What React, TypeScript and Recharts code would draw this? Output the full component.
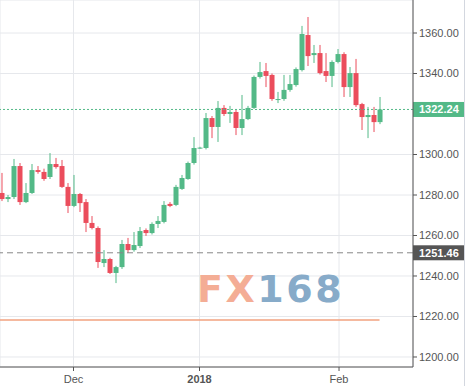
import React from 'react'
import { ComposedChart, Bar, XAxis, YAxis, CartesianGrid, ReferenceLine } from 'recharts'

// daily gold candles, Nov 2017 -> Feb 2018 (index = trading day)
const opens = [
  1281.0, 1278.0, 1279.0, 1294.3, 1276.5, 1281.0, 1292.3, 1291.4, 1288.9, 1295.3,
  1294.3, 1284.0, 1274.6, 1280.5, 1276.5, 1266.2, 1263.7, 1246.4, 1248.4, 1241.5,
  1244.4, 1255.8, 1252.8, 1254.8, 1262.7, 1261.2, 1265.7, 1266.7, 1275.6, 1275.1,
  1283.0, 1287.9, 1295.8, 1303.0, 1303.2, 1318.0, 1313.6, 1323.0, 1320.0, 1321.0,
  1313.1, 1317.5, 1323.0, 1338.3, 1341.2, 1339.3, 1326.9, 1327.4, 1331.9, 1334.3,
  1341.7, 1359.0, 1349.1, 1350.1, 1341.2, 1338.8, 1345.7, 1349.6, 1333.3, 1340.2,
  1324.9, 1318.5, 1319.5, 1316.0,
]
const closes = [
  1278.0, 1279.0, 1294.3, 1276.5, 1281.0, 1292.3, 1291.4, 1287.9, 1295.3, 1293.8,
  1284.0, 1274.6, 1280.5, 1276.0, 1266.2, 1263.7, 1246.9, 1248.4, 1241.5, 1244.4,
  1255.8, 1252.8, 1255.3, 1262.2, 1261.2, 1265.7, 1267.2, 1275.1, 1274.6, 1284.0,
  1288.4, 1295.8, 1303.2, 1303.4, 1318.0, 1313.6, 1323.0, 1320.0, 1321.0, 1313.1,
  1317.5, 1323.0, 1338.3, 1340.7, 1338.8, 1327.4, 1327.4, 1331.9, 1334.8, 1342.2,
  1359.5, 1348.6, 1350.1, 1340.2, 1338.8, 1345.7, 1349.6, 1333.3, 1340.2, 1324.4,
  1318.5, 1319.5, 1316.0, 1322.24,
]
const highs = [
  1290.9, 1280.0, 1297.8, 1295.8, 1285.9, 1295.3, 1294.3, 1293.0, 1300.7, 1298.3,
  1297.3, 1285.9, 1289.9, 1281.0, 1278.0, 1269.6, 1264.5, 1252.8, 1249.0, 1245.0,
  1257.8, 1258.8, 1261.7, 1264.2, 1263.5, 1266.5, 1269.6, 1277.0, 1276.5, 1285.0,
  1289.9, 1296.5, 1308.6, 1303.8, 1320.5, 1319.0, 1326.4, 1324.4, 1324.0, 1322.0,
  1329.4, 1324.0, 1339.0, 1345.7, 1345.2, 1340.0, 1330.9, 1339.3, 1339.3, 1343.0,
  1363.5, 1367.9, 1354.1, 1354.1, 1350.1, 1346.5, 1352.1, 1350.5, 1343.2, 1347.2,
  1325.5, 1323.5, 1323.5, 1328.4,
]
const lows = [
  1277.0, 1276.5, 1278.0, 1275.1, 1276.0, 1280.5, 1290.5, 1287.0, 1287.9, 1293.0,
  1283.5, 1271.1, 1274.0, 1271.6, 1261.7, 1263.0, 1244.0, 1244.4, 1241.0, 1236.5,
  1243.5, 1251.4, 1252.0, 1253.8, 1259.8, 1260.5, 1263.7, 1266.0, 1274.0, 1274.5,
  1282.5, 1287.5, 1295.0, 1302.8, 1302.5, 1308.1, 1306.2, 1319.0, 1315.6, 1309.6,
  1309.6, 1317.0, 1322.5, 1337.5, 1333.3, 1326.5, 1325.4, 1326.5, 1331.0, 1333.5,
  1341.0, 1343.7, 1345.2, 1339.5, 1335.8, 1333.3, 1345.0, 1328.4, 1328.4, 1323.5,
  1312.1, 1308.1, 1311.1, 1315.0,
]

const xTicks = [12, 33, 56.25]
const xTickLabels = ['Dec', '2018', 'Feb']
// 1320 is hidden behind the last-price tag
const yTicks = [1200, 1220, 1240, 1260, 1280, 1300, 1340, 1360]

const lastPrice = 1322.24
const markPrice = 1251.46
const orangeLevel = 1218.3

const GREEN = '#53b987'
const RED = '#eb4d5c'
const AXIS = '#555'

const rows = opens.map((o, i) => ({ idx: i, open: o, close: closes[i], high: highs[i], low: lows[i] }))

const Candle = (props: any) => {
  const { x, y, width, height, payload } = props
  if (!payload) return null
  const { open, close, high, low } = payload
  const top = Math.min(y, y + height)
  const h = Math.abs(height)
  const k = h / (high - low)
  const color = close >= open ? GREEN : RED
  const bodyTop = top + (high - Math.max(open, close)) * k
  const bodyH = Math.max(1, Math.abs(open - close) * k)
  const cx = x + width / 2
  return (
    <g>
      <line x1={cx} x2={cx} y1={top} y2={top + h} stroke={color} strokeWidth={1} />
      <rect x={x} y={bodyTop} width={width} height={bodyH} fill={color} />
    </g>
  )
}

const PriceTag = ({ viewBox, value, fill }: any) => {
  if (!viewBox) return null
  const x = viewBox.x + viewBox.width
  const y = viewBox.y
  return (
    <g>
      <rect x={x} y={y - 7.5} width={51} height={15} fill={fill} />
      <text x={x + 6} y={y + 4} fill="#fff" fontSize={11} fontWeight={600}>{value}</text>
    </g>
  )
}

const XTick = ({ x, y, payload }: any) => {
  const i = xTicks.indexOf(payload.value)
  const label = xTickLabels[i] ?? ''
  return (
    <text x={x} y={y + 10} textAnchor="middle" fill={AXIS} fontSize={11} fontWeight={label === '2018' ? 700 : 400}>
      {label}
    </text>
  )
}

export default function App() {
  return (
    <div style={{ position: 'absolute', left: 0, top: 0, width: 466, height: 386, background: '#fff', fontFamily: '"Liberation Sans", Arial, sans-serif' }}>
      <ComposedChart width={464} height={386} data={rows} margin={{ top: 0, right: 0, bottom: 0, left: 0 }}>
        <CartesianGrid stroke="#e6e8ec" />
        <XAxis
          dataKey="idx"
          type="number"
          domain={[-0.25, 68.58]}
          ticks={xTicks}
          tick={<XTick />}
          height={19}
          tickSize={4}
          stroke={AXIS}
          allowDataOverflow
        />
        <YAxis
          orientation="right"
          type="number"
          domain={[1195.06, 1376.3]}
          ticks={yTicks}
          tickFormatter={(v: number) => v.toFixed(2)}
          tick={{ fontSize: 11, fill: AXIS }}
          width={51}
          tickSize={4}
          stroke={AXIS}
          allowDataOverflow
        />
        <ReferenceLine
          segment={[{ x: -0.25, y: orangeLevel }, { x: 63, y: orangeLevel }]}
          stroke="#f2a27f"
          strokeWidth={1.5}
        />
        <ReferenceLine
          y={markPrice}
          stroke="#888"
          strokeDasharray="6 4"
          label={(p: any) => <PriceTag {...p} value={markPrice.toFixed(2)} fill="#555" />}
        />
        <ReferenceLine
          y={lastPrice}
          stroke={GREEN}
          strokeDasharray="2 2"
          label={(p: any) => <PriceTag {...p} value={lastPrice.toFixed(2)} fill={GREEN} />}
        />
        <Bar
          dataKey={(d: any) => [d.low, d.high]}
          barSize={5}
          shape={<Candle />}
          isAnimationActive={false}
        />
      </ComposedChart>
      <div style={{ position: 'absolute', left: 464, top: 0, width: 1, height: 386, background: '#d3d7df' }} />
      <svg width={466} height={386} style={{ position: 'absolute', left: 0, top: 0, pointerEvents: 'none' }}>
        <text x={197} y={302} fontFamily="DejaVu Sans" fontWeight="bold" fontSize={38} letterSpacing={2.5}>
          <tspan fill="#f4ad95">FX</tspan>
          <tspan fill="#87abc9">168</tspan>
        </text>
      </svg>
    </div>
  )
}
